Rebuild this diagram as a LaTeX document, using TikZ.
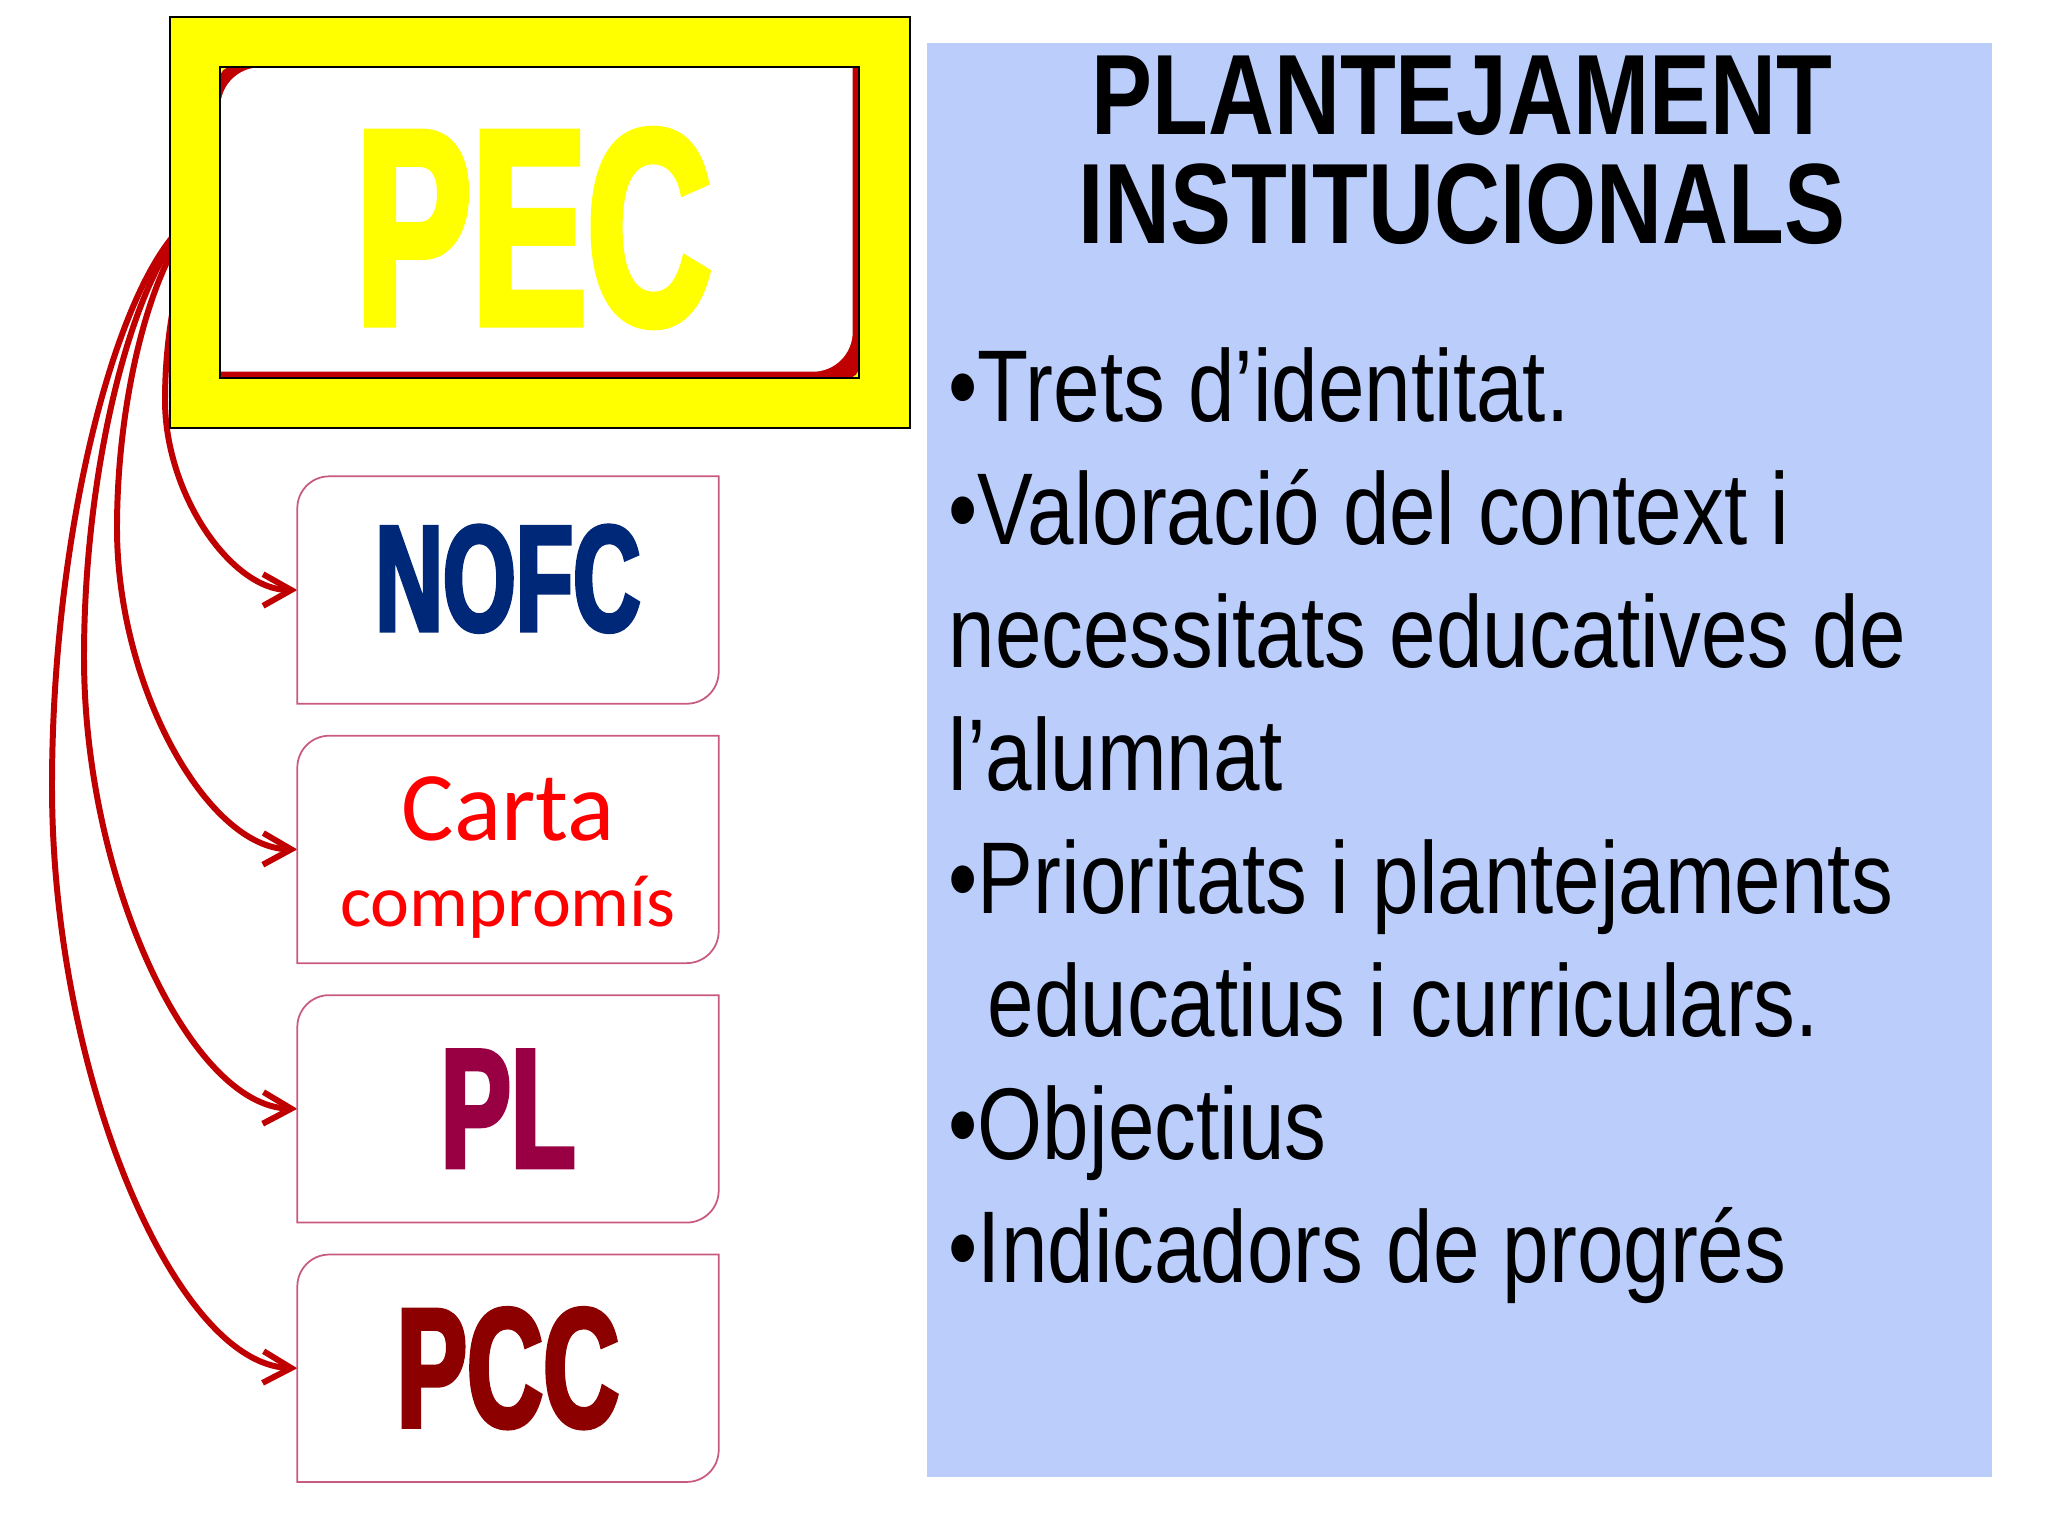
\documentclass[tikz,border=0pt]{standalone}
\usepackage{fontspec}
\usetikzlibrary{positioning,calc,arrows.meta,backgrounds}
\setmainfont{Liberation Sans}
\newfontfamily\narrowfont[FakeStretch=0.82]{Liberation Sans}
\newfontfamily\narrowbold[FakeStretch=0.8]{Liberation Sans Bold}
\newfontfamily\impactfont[FakeStretch=0.62,FakeBold=2.5]{Liberation Sans Bold}
\newfontfamily\cartafont{Carlito}
\definecolor{pecyellow}{RGB}{255,255,0}
\definecolor{pecred}{RGB}{192,0,0}
\definecolor{linkred}{RGB}{192,0,0}
\definecolor{nofcblue}{RGB}{0,40,120}
\definecolor{cartared}{RGB}{255,0,0}
\definecolor{plpurple}{RGB}{153,0,68}
\definecolor{pccred}{RGB}{140,0,0}
\definecolor{panelblue}{RGB}{186,205,251}
\definecolor{boxpink}{RGB}{200,90,130}
% rectangle with top-left and bottom-right corners rounded
\newcommand{\roundiag}[4][]{%
  \path[#1] ($(#2)!.5!(#2|-#3)$) [rounded corners=#4] -- (#2) -- ($(#2)!.5!(#3|-#2)$)
    [sharp corners] -- (#3|-#2) -- ($(#3)!.5!(#3|-#2)$)
    [rounded corners=#4] -- (#3) -- ($(#3)!.5!(#2|-#3)$)
    [sharp corners] -- (#2|-#3) -- cycle;}

\begin{document}
\begin{tikzpicture}[x=0.1mm,y=-0.1mm]
    \tikzstyle{docbox}=[rectangle,minimum width=42mm,minimum height=22.6mm,inner sep=0pt]
    \tikzstyle{bigletters}=[inner sep=0pt,font=\impactfont\fontsize{48.4pt}{48pt}\selectfont]
    \tikzstyle{link}=[draw=linkred,line width=1.7pt,-{Straight Barb[length=8pt,width=9pt]}]
    \useasboundingbox (0,0) rectangle (2048,1536);

    % PEC
    \node[rectangle,fill=pecyellow,draw=black,line width=0.6pt,minimum width=74mm,minimum height=41.1mm] (pecframe) at (540,222.5) {};
    \node[rectangle,minimum width=63.7mm,minimum height=30.9mm,inner sep=0pt] (pec) at (539.5,222.5) {};
    \coordinate (pecinner) at ($(pec.south east)+(-6,-6)$);
    \coordinate (fan) at ($(pec.west)+(0,-15)$);
    \roundiag[fill=pecred]{pec.north west}{pec.south east}{1mm}
    \roundiag[fill=white]{pec.north west}{pecinner}{4mm}
    \draw[black,line width=0.6pt] (pec.north west) rectangle (pec.south east);
    \node[bigletters,font=\impactfont\fontsize{79.4pt}{80pt}\selectfont,text=pecyellow] (peclabel) at (534,228) {PEC};

    % documents
    \node[docbox,bigletters,font=\impactfont\fontsize{43pt}{43pt}\selectfont,text=nofcblue] (nofc) at (508,590) {\raisebox{2.4mm}{NOFC}};
    \node[docbox,below=3.2mm of nofc,align=center,text=cartared,
          font=\cartafont\fontsize{21pt}{24.5pt}\selectfont] (carta) {{\fontsize{28pt}{28pt}\selectfont\raisebox{0pt}[8mm]{Carta}}\\compromís};
    \node[docbox,bigletters,below=3.2mm of carta,text=plpurple] (pl) {PL};
    \node[docbox,bigletters,below=3.2mm of pl,text=pccred] (pcc) {PCC};
    \foreach \b in {nofc,carta,pl,pcc}
        \roundiag[draw=boxpink,line width=0.5pt]{\b.north west}{\b.south east}{3.2mm};

    \begin{scope}[on background layer]
        \draw[link] (fan) .. controls (193,207) and (165,304) .. (165,400)
                          .. controls (165,495) and (232,590) .. (nofc.west);
        \draw[link] (fan) .. controls (169,207) and (117,367) .. (117,528)
                          .. controls (117,688) and (208,848) .. (carta.west);
        \draw[link] (fan) .. controls (152,207) and (84,432) .. (84,657)
                          .. controls (84,882) and (191,1106) .. (pl.west);
        \draw[link] (fan) .. controls (136,207) and (52,496) .. (52,786)
                          .. controls (52,1075) and (175,1364) .. (pcc.west);
    \end{scope}

    % plantejament
    \node[rectangle,fill=panelblue,minimum width=106.5mm,minimum height=143.4mm,inner sep=0pt] (panel) at (1459.5,760) {};
    \node[anchor=north,inner sep=0pt,align=center,font=\narrowbold\fontsize{32.5pt}{31pt}\selectfont] (title) at (1462,55)
        {PLANTEJAMENT\\INSTITUCIONALS};
    \node[anchor=north west,inner sep=0pt,align=left,font=\narrowfont\fontsize{29pt}{35pt}\selectfont] (items) at (948,347)
        {•Trets d’identitat.\\
         •Valoració del context i\\
         necessitats educatives de\\
         l’alumnat\\
         •Prioritats i plantejaments\\
         \hspace*{3.9mm}educatius i curriculars.\\
         •Objectius\\
         •Indicadors de progrés};

\end{tikzpicture}
\end{document}
